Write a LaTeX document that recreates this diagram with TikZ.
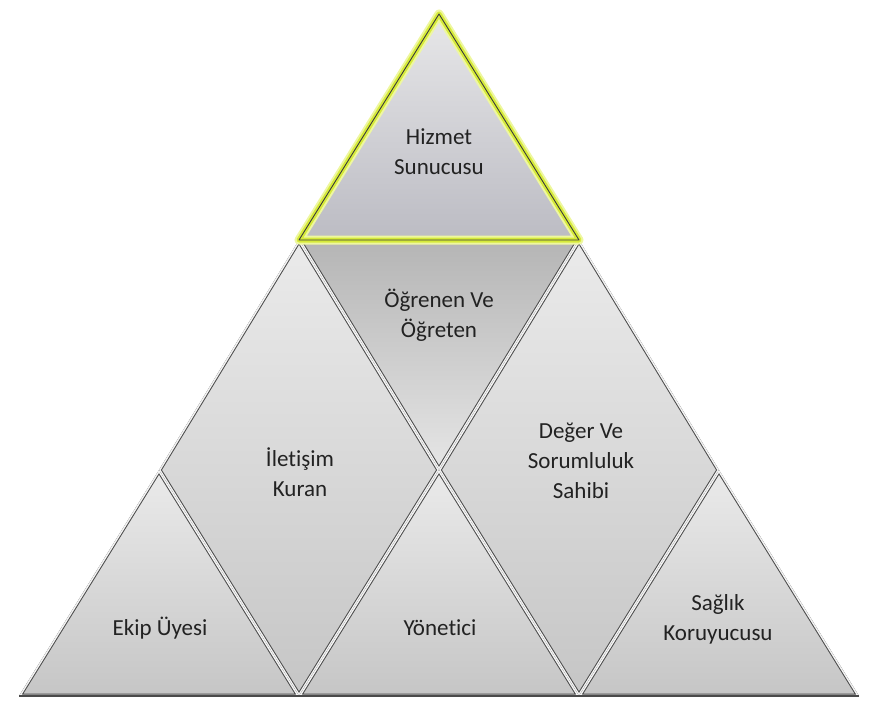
\documentclass[tikz,border=0pt]{standalone}
\usepackage{fontspec}
\setmainfont[Ligatures=NoCommon]{Carlito}
\usetikzlibrary{calc}

\definecolor{edgegray}{HTML}{4A4A4A}
\definecolor{gapgray}{HTML}{F2F2F2}
\definecolor{glowyellow}{HTML}{D6EA3A}
\definecolor{glowsoft}{HTML}{EEF7A0}
\definecolor{textgray}{HTML}{222222}

% one piece of the pyramid: fill, then an inner edge line with a light gap outside it
\newcommand{\drawpiece}[2]{%
  \begin{scope}
    \clip #2;
    \path[#1] #2;
    \draw[line width=5pt, edgegray] #2;
    \draw[line width=3pt, gapgray] #2;
  \end{scope}}

\begin{document}
\begin{tikzpicture}[
        x=1pt, y=-1pt,
        plain/.style={top color=gray!16, bottom color=gray!45},
        dark/.style={top color=gray!58, bottom color=gray!20},
        crown/.style={top color=blue!3!gray!18, bottom color=blue!6!gray!50},
        label/.style={align=center, text=textgray, inner sep=0pt, font=\fontsize{23}{30}\selectfont}
    ]
    \useasboundingbox (0,0) rectangle (870,701);

    % lattice points
    \coordinate (apex) at (439,14);
    \coordinate (tl) at (299,240);
    \coordinate (tr) at (579,240);
    \coordinate (ml) at (159,470);
    \coordinate (mc) at (439,470);
    \coordinate (mr) at (719,470);
    \coordinate (bl) at (19,696);
    \coordinate (b1) at (299,696);
    \coordinate (b2) at (579,696);
    \coordinate (br) at (859,696);

    % pieces
    \drawpiece{dark}{(tl) -- (tr) -- (mc) -- cycle}
    \drawpiece{plain}{(tl) -- (mc) -- (b1) -- (ml) -- cycle}
    \drawpiece{plain}{(tr) -- (mr) -- (b2) -- (mc) -- cycle}
    \drawpiece{plain}{(ml) -- (b1) -- (bl) -- cycle}
    \drawpiece{plain}{(mc) -- (b2) -- (b1) -- cycle}
    \drawpiece{plain}{(mr) -- (br) -- (b2) -- cycle}
    \draw[line width=1.5pt, edgegray] (bl) -- (br);

    % top piece with glow
    \path[crown] (apex) -- (tr) -- (tl) -- cycle;
    \draw[line width=9pt, glowsoft, line join=round] (apex) -- (tr) -- (tl) -- cycle;
    \draw[line width=5pt, glowyellow, line join=round] (apex) -- (tr) -- (tl) -- cycle;
    \draw[line width=0.9pt, edgegray!80!black, line join=round] (apex) -- (tr) -- (tl) -- cycle;

    % labels
    \node[label] (hizmet) at (439,152) {Hizmet\\Sunucusu};
    \node[label] (ogrenen) at (439,315) {Öğrenen Ve\\Öğreten};
    \node[label] (iletisim) at (300,472) {İletişim\\Kuran};
    \node[label] (deger) at (581,461) {Değer Ve\\Sorumluluk\\Sahibi};
    \node[label] (ekip) at (160,628) {Ekip Üyesi};
    \node[label] (yonetici) at (440,628) {Yönetici};
    \node[label] (saglik) at (718,619) {Sağlık\\Koruyucusu};
\end{tikzpicture}
\end{document}
